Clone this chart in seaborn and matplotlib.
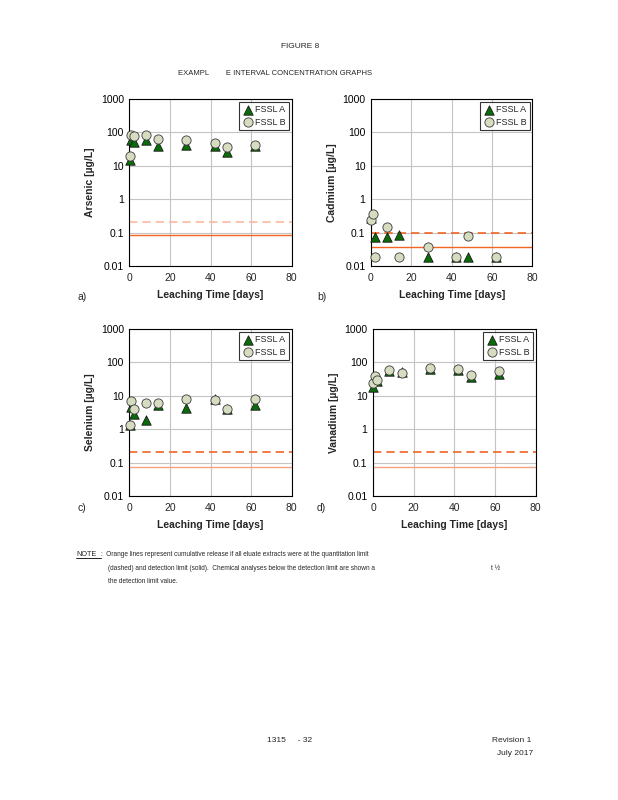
import numpy as np
import pandas as pd
import matplotlib
matplotlib.use("Agg")
import matplotlib.pyplot as plt
import seaborn as sns
from matplotlib.ticker import LogLocator, FixedLocator, FuncFormatter, NullFormatter

sns.set_style("white")
plt.rcParams['font.family'] = ['Liberation Sans', 'DejaVu Sans']

# leaching times [days]
days = [0.08, 1, 2, 8, 14, 28, 42, 48, 62]

# concentrations [ug/L]
arsenic_a = [15, 60, 52, 58, 40, 42, 40, 26, 38]
arsenic_b = [19, 85, 78, 82, 64, 57, 47, 35, 41]
cadmium_a = [0.27, None, 0.075, 0.072, 0.083, 0.018, 0.018, 0.018, 0.018]
cadmium_b = [0.23, 0.36, 0.018, 0.15, 0.018, 0.038, 0.018, 0.078, 0.018]
selenium_a = [1.3, 4.6, 2.8, 1.9, 5.1, 4.3, 7.8, 3.9, 5.1]
selenium_b = [1.3, 7.0, 3.9, 6.1, 6.1, 8.2, 7.2, 3.9, 8.2]
vanadium_a = [18, 35, 28, 55, 50, 63, 57, 35, 43]
vanadium_b = [24, 39, 29, 57, 48, 68, 62, 41, 54]

# limit lines: quantitation limit (dashed), detection limit (solid)
quant_limit = [0.21, 0.10, 0.21, 0.21]
detect_limit = [0.082, 0.036, 0.076, 0.076]

names = ['Arsenic', 'Cadmium', 'Selenium', 'Vanadium']
letters = ['a)', 'b)', 'c)', 'd)']
series_a = [arsenic_a, cadmium_a, selenium_a, vanadium_a]
series_b = [arsenic_b, cadmium_b, selenium_b, vanadium_b]
dash_cols = ['#f9b9a0', '#f26522', '#f26522', '#f26522']
solid_cols = ['#f26522', '#f26522', '#f5a27f', '#f5a27f']

fig = plt.figure(figsize=(6.18, 8), dpi=100)

boxes = [(0.2095, 0.6675, 0.2625, 0.209),
         (0.6003, 0.6675, 0.2613, 0.209),
         (0.2095, 0.380, 0.2625, 0.209),
         (0.6036, 0.380, 0.2633, 0.209)]
letter_pos = [(0.125, 0.625), (0.513, 0.625), (0.125, 0.361), (0.513, 0.361)]

for i in range(4):
    ax = fig.add_axes(boxes[i])
    df = pd.DataFrame({'days': days, 'A': series_a[i], 'B': series_b[i]}).astype(float)
    ax.set_yscale('log')
    ax.set_xlim(0, 80)
    ax.set_ylim(0.01, 1000)
    ax.grid(True, which='major', color='#c4c4c4', lw=0.8)
    ax.set_axisbelow(True)
    ax.axhline(quant_limit[i], color=dash_cols[i], lw=1.2, ls=(0, (5, 3)), zorder=1.5)
    ax.axhline(detect_limit[i], color=solid_cols[i], lw=1.0, zorder=1.5)
    sns.scatterplot(data=df, x='days', y='A', marker='^', s=46, color='#0a6b0a',
                    edgecolor='#1a1a1a', linewidth=0.6, label='FSSL A', ax=ax,
                    zorder=3, clip_on=False)
    sns.scatterplot(data=df, x='days', y='B', marker='o', s=44, color='#d5dcc0',
                    edgecolor='#3a3a3a', linewidth=0.6, label='FSSL B', ax=ax,
                    zorder=4, clip_on=False)
    ax.xaxis.set_major_locator(FixedLocator([0, 20, 40, 60, 80]))
    ax.yaxis.set_major_locator(LogLocator(base=10, numticks=10))
    ax.yaxis.set_minor_locator(LogLocator(base=10, subs=np.arange(2, 10), numticks=10))
    ax.yaxis.set_minor_formatter(NullFormatter())
    ax.yaxis.set_major_formatter(FuncFormatter(lambda v, p: '{:g}'.format(v)))
    ax.tick_params(axis='y', which='major', direction='in', length=3, width=0.8,
                   labelsize=7.5, pad=4, colors='black')
    ax.tick_params(axis='y', which='minor', direction='in', length=2, width=0.6)
    ax.tick_params(axis='x', which='major', length=0, labelsize=7.5, pad=5)
    for sp in ax.spines.values():
        sp.set_color('black')
        sp.set_linewidth(0.8)
    ax.set_xlabel('Leaching Time [days]', fontsize=7.5, fontweight='bold', labelpad=5)
    ax.set_ylabel(names[i] + ' [µg/L]', fontsize=7.5, fontweight='bold', labelpad=4)
    leg = ax.legend(loc='upper right', fontsize=6.5, frameon=True, fancybox=False,
                    handletextpad=0.1, borderpad=0.4, labelspacing=0.4,
                    handlelength=1.2, borderaxespad=0.3)
    leg.get_frame().set_edgecolor('black')
    leg.get_frame().set_linewidth(0.8)
    fig.text(letter_pos[i][0], letter_pos[i][1], letters[i], fontsize=7.5)

fig.text(0.486, 0.940, 'FIGURE 8', fontsize=6, ha='center')
fig.text(0.288, 0.906, 'EXAMPL        E INTERVAL CONCENTRATION GRAPHS', fontsize=5.5)

fig.text(0.123, 0.305, 'NOTE', fontsize=5.2)
fig.add_artist(plt.Line2D([0.123, 0.163], [0.302, 0.302], color='black', lw=0.6))
fig.text(0.163, 0.305, ':  Orange lines represent cumulative release if all eluate extracts were at the quantitation limit',
         fontsize=4.7)
fig.text(0.175, 0.288, '(dashed) and detection limit (solid).  Chemical analyses below the detection limit are shown a',
         fontsize=4.7)
fig.text(0.795, 0.288, 't ½', fontsize=4.7)
fig.text(0.175, 0.271, 'the detection limit value.', fontsize=4.7)

fig.text(0.432, 0.072, '1315     - 32', fontsize=6)
fig.text(0.796, 0.073, 'Revision 1', fontsize=6)
fig.text(0.804, 0.056, 'July 2017', fontsize=6)

fig.savefig('out.png', dpi=100)
